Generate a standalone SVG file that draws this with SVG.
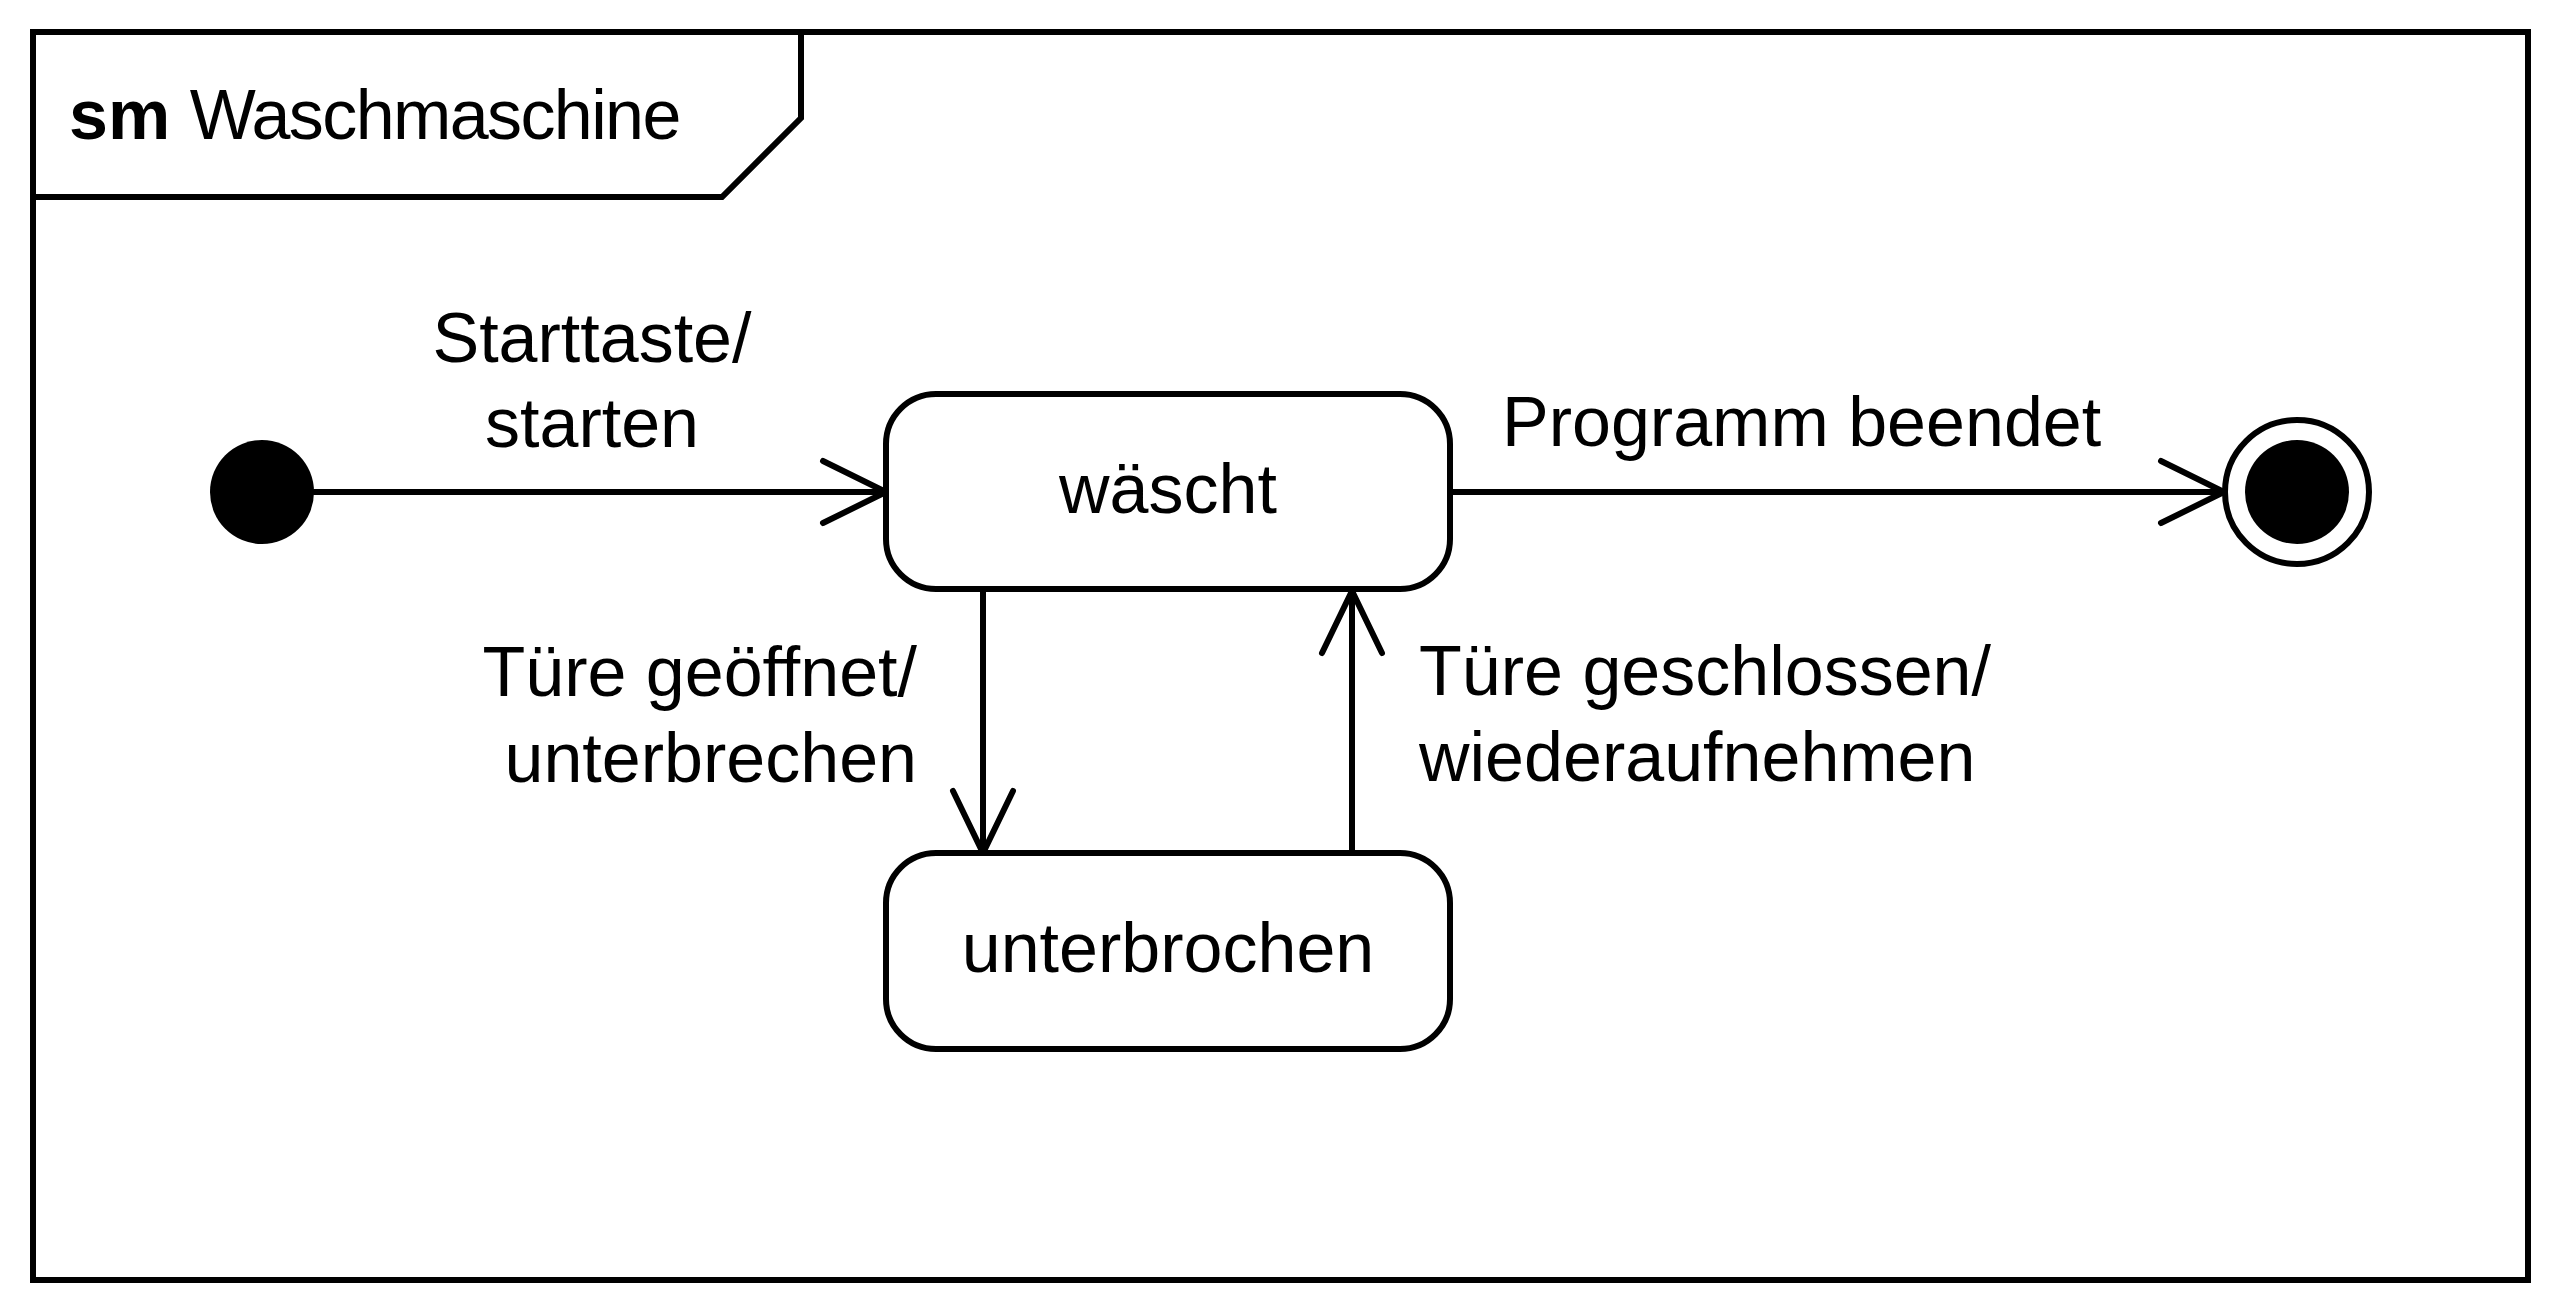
<svg xmlns="http://www.w3.org/2000/svg" width="2560" height="1313" viewBox="0 0 2560 1313">
<style>
.ln{fill:none;stroke:#000;stroke-width:6;stroke-linecap:round;stroke-linejoin:miter}
.st{fill:#fff;stroke:#000;stroke-width:6}
.t{font-family:"Liberation Sans",Arial,sans-serif;font-size:70px;fill:#000}
.b{font-weight:bold}
.c{text-anchor:middle}
.e{text-anchor:end}
</style>
<rect width="2560" height="1313" fill="#fff"/>
<g id="frame">
<rect x="33" y="32" width="2495" height="1248" fill="none" stroke="#000" stroke-width="6"/>
<polyline class="ln" points="33,197 722,197 801,118 801,32"/>
<text class="t" x="69" y="139"><tspan class="b">sm</tspan> <tspan letter-spacing="-1.6">Waschmaschine</tspan></text>
</g>
<g id="connectors">
<line class="ln" x1="314" y1="492" x2="884" y2="492"/>
<polyline class="ln" points="823,461 886,492 823,523"/>
<line class="ln" x1="1450" y1="492" x2="2222" y2="492"/>
<polyline class="ln" points="2161,461 2224,492 2161,523"/>
<line class="ln" x1="983" y1="589" x2="983" y2="851"/>
<polyline class="ln" points="953,791 983,853 1013,791"/>
<line class="ln" x1="1352" y1="853" x2="1352" y2="593"/>
<polyline class="ln" points="1322,653 1352,591 1382,653"/>
<text class="t c" x="592" y="362">Starttaste/</text>
<text class="t c" x="592" y="447">starten</text>
<text class="t" x="1502" y="446" font-size="71">Programm beendet</text>
<text class="t e" x="917" y="696">Türe geöffnet/</text>
<text class="t e" x="917" y="782">unterbrechen</text>
<text class="t" x="1419" y="695">Türe geschlossen/</text>
<text class="t" x="1419" y="781">wiederaufnehmen</text>
</g>
<g id="initial">
<circle cx="262" cy="492" r="52" fill="#000"/>
</g>
<g id="waescht">
<rect class="st" x="886" y="394" width="564" height="195" rx="50" ry="50"/>
<text class="t c" x="1168" y="513">wäscht</text>
</g>
<g id="unterbrochen">
<rect class="st" x="886" y="853" width="564" height="196" rx="50" ry="50"/>
<text class="t c" x="1168" y="972">unterbrochen</text>
</g>
<g id="final">
<circle class="st" cx="2297" cy="492" r="72"/>
<circle cx="2297" cy="492" r="52" fill="#000"/>
</g>
</svg>
